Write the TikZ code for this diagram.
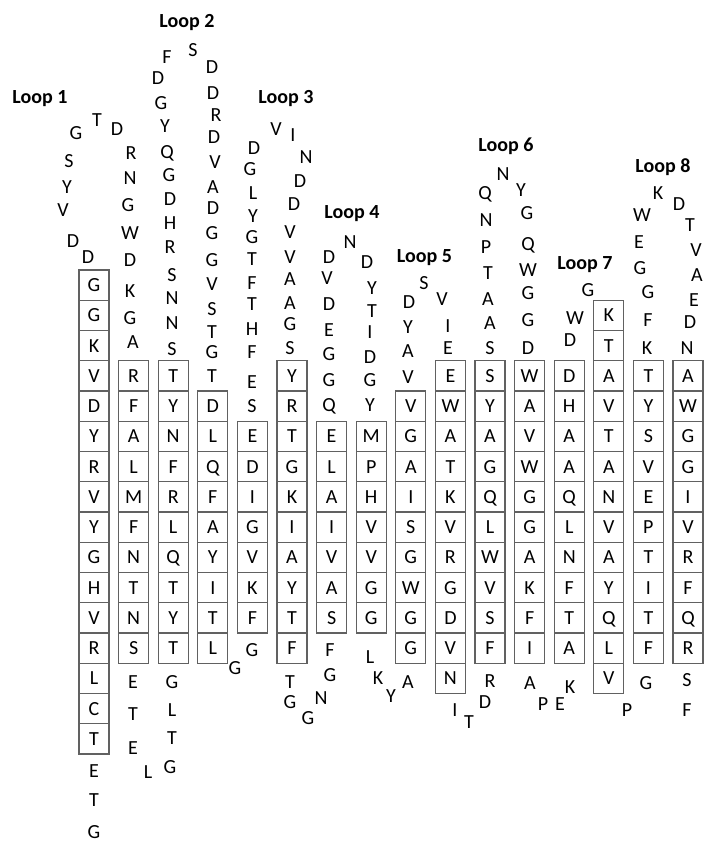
\documentclass[tikz,border=0pt]{standalone}
\usepackage{fontspec}
\setmainfont{Carlito}
\begin{document}
\begin{tikzpicture}[x=1pt,y=-1pt,
  font=\fontsize{20}{24}\selectfont,
  aa/.style={inner sep=0pt, text height=12.9pt, text depth=0pt},
  bx/.style={draw=black!62, line width=1.2pt, minimum width=30pt, minimum height=30.25pt,
             inner sep=0pt, text height=12.9pt, text depth=0pt},
  ttl/.style={aa, font=\fontsize{20}{24}\selectfont\bfseries}]
\useasboundingbox (0,0) rectangle (707,843);
% strands (column / first row / residues)
\foreach \c/\k/\seq in {
  1/0/{G,G,K,V,D,Y,R,V,Y,G,H,V,R,L,C,T},
  2/3/{R,F,A,L,M,F,N,T,N,S},
  3/3/{T,Y,N,F,R,L,Q,T,Y,T},
  4/4/{D,L,Q,F,A,Y,I,T,L},
  5/5/{E,D,I,G,V,K,F},
  6/3/{Y,R,T,G,K,I,A,Y,T,F},
  7/5/{E,L,A,I,V,A,S},
  8/5/{M,P,H,V,V,G,G},
  9/4/{V,G,A,I,S,G,W,G,G},
  10/3/{E,W,A,T,K,V,R,G,D,V,N},
  11/3/{S,Y,A,G,Q,L,W,V,S,F},
  12/3/{W,A,V,W,G,G,A,K,F,I},
  13/3/{D,H,A,A,Q,L,N,F,T,A},
  14/1/{K,T,A,V,T,A,N,V,A,Y,Q,L,V},
  15/3/{T,Y,S,V,E,P,T,I,T,F},
  16/3/{A,W,G,G,I,V,R,F,Q,R}} {
  \foreach \t [count=\i] in \seq {
    \node[bx] (s\c-\i) at ({94+39.6*(\c-1)}, {270+30.25*(\k+\i-0.5)}) {\t};
  }
}
% loop titles
\node[ttl] (loop1) at (40,97) {Loop 1};
\node[ttl] (loop2) at (187,21) {Loop 2};
\node[ttl] (loop3) at (286,97) {Loop 3};
\node[ttl] (loop4) at (352,212) {Loop 4};
\node[ttl] (loop5) at (424.5,256) {Loop 5};
\node[ttl] (loop6) at (506,145) {Loop 6};
\node[ttl] (loop7) at (585,263) {Loop 7};
\node[ttl] (loop8) at (663,166) {Loop 8};
% loose residues
\foreach \x/\y/\t [count=\n] in {
  88/257/D, 73/241/D, 63/210/V, 67/187/Y, 69/161/S, 76/133/G, 97/120/T, 117/129/D,
  131/153/R, 130/178/N, 128/205/G, 130/233/W, 130/260/D, 130/291/K, 130/318/G, 133/342/A,
  167/57/F, 158/78/D, 161/103/G, 165/126/Y, 167/152/Q, 169/175/G, 170/199/D, 170/223/H,
  170/247/R, 172/275/S, 172/298/N, 172/323/N, 172/349/S,
  193/50/S, 212/67/D, 213/93/D, 216/115/R, 214/137/D, 215/162/V, 213/187/A, 213/208/D,
  212/233/G, 212/260/G, 212/284/V, 212/309/S, 212/332/T, 212/352/G, 212/376/T,
  254/148/D, 250/169/G, 253/193/L, 253/216/Y, 252/237/G, 252/259/T, 252/283/F, 252/304/T,
  252/329/H, 252/352/F, 252/382/E, 252/406/S,
  276/129/V, 293/135/I, 306/157/N, 300/181/D, 294/204/D, 290/232/V, 290/257/V, 290/279/A,
  290/303/A, 290/324/G, 290/348/S,
  329/257/D, 327/278/V, 329/304/D, 329/330/E, 329/354/G, 329/380/G, 329/405/Q,
  350/242/N, 367/262/D, 372/288/Y, 372/311/T, 370/332/I, 370/357/D, 370/380/G, 370/405/Y,
  408/377/V, 408/351/A, 408/327/Y, 409/302/D, 424/283/S, 442/299/V, 448/326/I, 448/348/E,
  490/348/S, 490/323/A, 488/299/A, 488/273/T, 486/247/P, 486/220/N, 485/193/Q, 503/174/N,
  521/190/Y, 527/213/G, 528/244/Q, 528/270/W, 528/293/G, 528/320/G, 528/348/D,
  570/340/D, 575/318/W, 588/290/G,
  647/348/K, 648/320/F, 648/292/G, 640/268/G, 639/242/E, 642/215/W, 658/193/K, 679/204/D,
  690/225/T, 696/250/V, 697/275/A, 694/300/E, 690/322/D, 687/348/N,
  94/771/E, 94/800/T, 94/832/G,
  133/682/E, 133/714/T, 133/748/E, 148/772/L, 170/767/G, 172/738/T, 172/710/L, 172/682/G,
  235/668/G, 252/650/G,
  290/682/T, 290/702/G, 308/718/G, 321/698/N, 330/675/G, 330/650/F,
  370/657/L, 378/678/K, 391/696/Y, 408/682/A,
  455/710/I, 469/722/T, 485/702/D, 490/681/R,
  530/683/A, 543/704/P, 560/704/E, 570/687/K,
  627/710/P, 646/683/G,
  687/680/S, 687/710/F} {
  \node[aa] (r\n) at (\x,\y) {\t};
}
\end{tikzpicture}
\end{document}
